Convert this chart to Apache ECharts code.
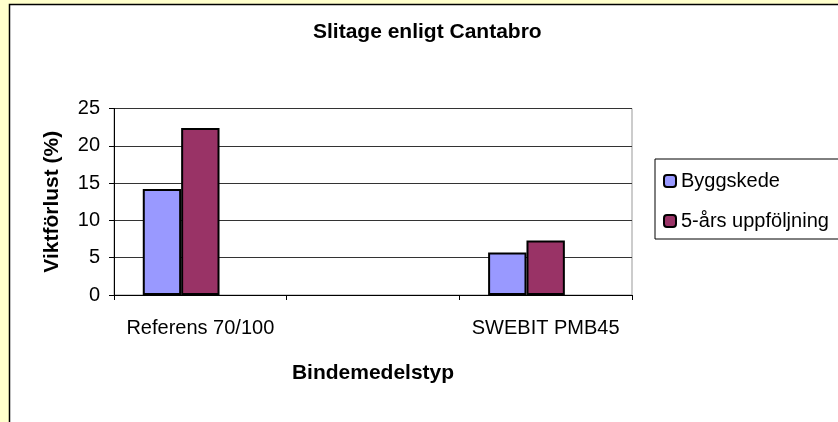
<!DOCTYPE html>
<html>
<head>
<meta charset="utf-8">
<script src="https://cdn.jsdelivr.net/npm/echarts@6/dist/echarts.min.js"></script>
<style>
  html, body { margin: 0; padding: 0; background: #FFFFCC; }
  #chart { width: 838px; height: 422px; }
</style>
</head>
<body>
<div id="chart"></div>
<script>
// values
const categories = ['Referens 70/100', '', 'SWEBIT PMB45']
const byggskede = [14.2, '-', 5.7]
const uppfoljning = [22.4, '-', 7.3]
// Excel kept room for a third (empty) series in each cluster
const emptySeries = ['-', '-', '-']
const yTicks = { min: 0, max: 25, interval: 5 }

const font = "'Liberation Sans', Arial, sans-serif"

const chart = echarts.init(document.getElementById('chart'))

const option = {
  backgroundColor: '#FFFFCC',
  animation: false,
  textStyle: { fontFamily: font, color: '#000' },
  graphic: [
    {
      type: 'rect',
      z: -10,
      shape: { x: 9.5, y: 4.5, width: 860, height: 440 },
      style: { fill: '#fff', stroke: '#000', lineWidth: 1.5 }
    }
  ],
  title: {
    text: 'Slitage enligt Cantabro',
    left: 313,
    top: 22,
    padding: 0,
    textStyle: { fontFamily: font, fontSize: 21, fontWeight: 'bold', color: '#000' }
  },
  legend: {
    data: ['Byggskede', '5-års uppföljning'],
    orient: 'vertical',
    left: 655,
    top: 159,
    padding: [12, 40, 8, 8],
    itemGap: 20,
    itemWidth: 12,
    itemHeight: 12,
    borderColor: '#000',
    borderWidth: 1,
    backgroundColor: '#fff',
    textStyle: { fontFamily: font, fontSize: 20, color: '#000' }
  },
  grid: {
    left: 114,
    right: 206,
    top: 108.5,
    bottom: 127,
    show: true,
    backgroundColor: '#fff',
    borderColor: '#999',
    borderWidth: 1
  },
  xAxis: {
    type: 'category',
    data: categories,
    name: 'Bindemedelstyp',
    nameLocation: 'middle',
    nameGap: 68,
    nameTextStyle: { fontFamily: font, fontSize: 21, fontWeight: 'bold', color: '#000' },
    axisLine: { lineStyle: { color: '#000', width: 1 } },
    axisTick: { show: true, length: 5, lineStyle: { color: '#000' } },
    axisLabel: { fontFamily: font, fontSize: 20, color: '#000', margin: 23, interval: 0 }
  },
  yAxis: {
    type: 'value',
    min: yTicks.min,
    max: yTicks.max,
    interval: yTicks.interval,
    name: 'Viktförlust (%)',
    nameLocation: 'middle',
    nameRotate: 90,
    nameGap: 51,
    nameTextStyle: { fontFamily: font, fontSize: 21, fontWeight: 'bold', color: '#000' },
    axisLine: { show: true, lineStyle: { color: '#000', width: 1 } },
    axisTick: { show: true, length: 5, lineStyle: { color: '#000' } },
    axisLabel: { fontFamily: font, fontSize: 20, color: '#000', margin: 14 },
    splitLine: { show: true, lineStyle: { color: '#333', width: 1 } }
  },
  series: [
    {
      name: 'Byggskede',
      type: 'bar',
      data: byggskede,
      barGap: '0%',
      barCategoryGap: '33.33%',
      itemStyle: { color: '#9999FF', borderColor: '#000', borderWidth: 2 }
    },
    {
      name: '5-års uppföljning',
      type: 'bar',
      data: uppfoljning,
      itemStyle: { color: '#993366', borderColor: '#000', borderWidth: 2 }
    },
    {
      name: 'tom',
      type: 'bar',
      data: emptySeries,
      itemStyle: { color: '#FFFFCC', borderColor: '#000', borderWidth: 2 }
    }
  ]
}

chart.setOption(option)
</script>
</body>
</html>
